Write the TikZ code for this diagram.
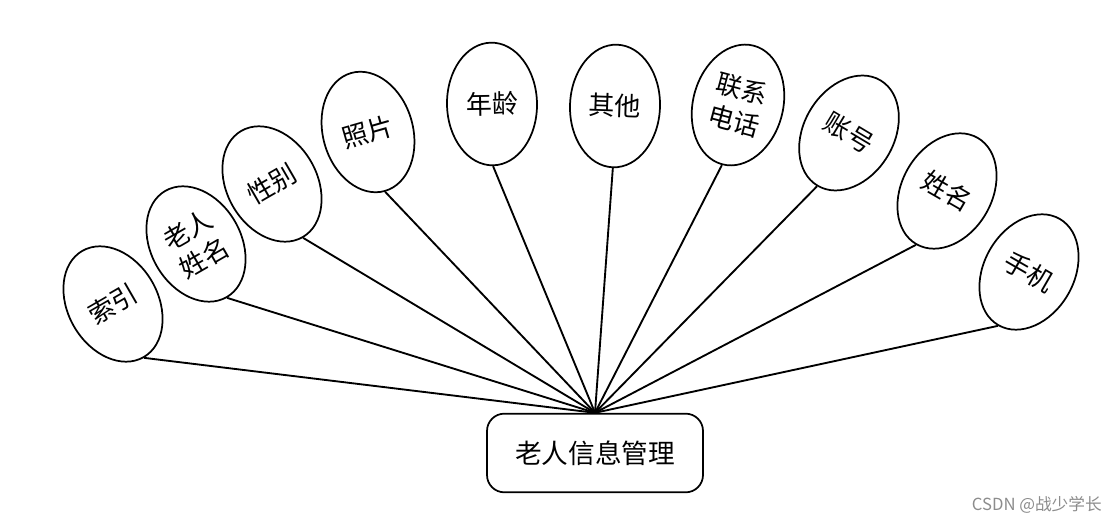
\documentclass[tikz,border=0pt]{standalone}
\usepackage{fontspec}
\setmainfont{Noto Sans CJK SC}
\usetikzlibrary{shapes.geometric}
\begin{document}
\begin{tikzpicture}[x=0.75pt,y=-0.75pt,
  attr/.style={ellipse, draw, line width=1.3pt, minimum width=67.5pt, minimum height=92pt, inner sep=0pt, align=center, font=\fontsize{19.5}{25}\selectfont},
  link/.style={line width=1.4pt},
  hubbox/.style={rounded corners=13pt, draw, line width=1.3pt, minimum width=162pt, minimum height=59pt, font=\fontsize{20}{24}\selectfont},
  wmark/.style={text=black!45, font=\fontsize{12.5}{14}\selectfont, anchor=east, inner sep=0pt}]
\useasboundingbox (0,0) rectangle (1118,523);
\node[hubbox] (hub) at (595,453) {老人信息管理};
\node[attr, rotate=30]  (a1)  at (113,304) {索引};
\node[attr, rotate=30]  (a2)  at (196,244) {老人\\姓名};
\node[attr, rotate=30]  (a3)  at (272,184) {性别};
\node[attr, rotate=16]  (a4)  at (368,132) {照片};
\node[attr, rotate=1]   (a5)  at (492,104) {年龄};
\node[attr, rotate=-2]  (a6)  at (615,106) {其他};
\node[attr, rotate=-15] (a7)  at (738,105) {联系\\电话};
\node[attr, rotate=-31] (a8)  at (849,133) {账号};
\node[attr, rotate=-30] (a9)  at (947,191) {姓名};
\node[attr, rotate=-30] (a10) at (1029,272) {手机};
\foreach \i in {1,...,10}{\draw[link] (a\i.south) -- (hub.north);}
\node[wmark] (wm) at (1102,505) {CSDN @战少学长};
\end{tikzpicture}
\end{document}
